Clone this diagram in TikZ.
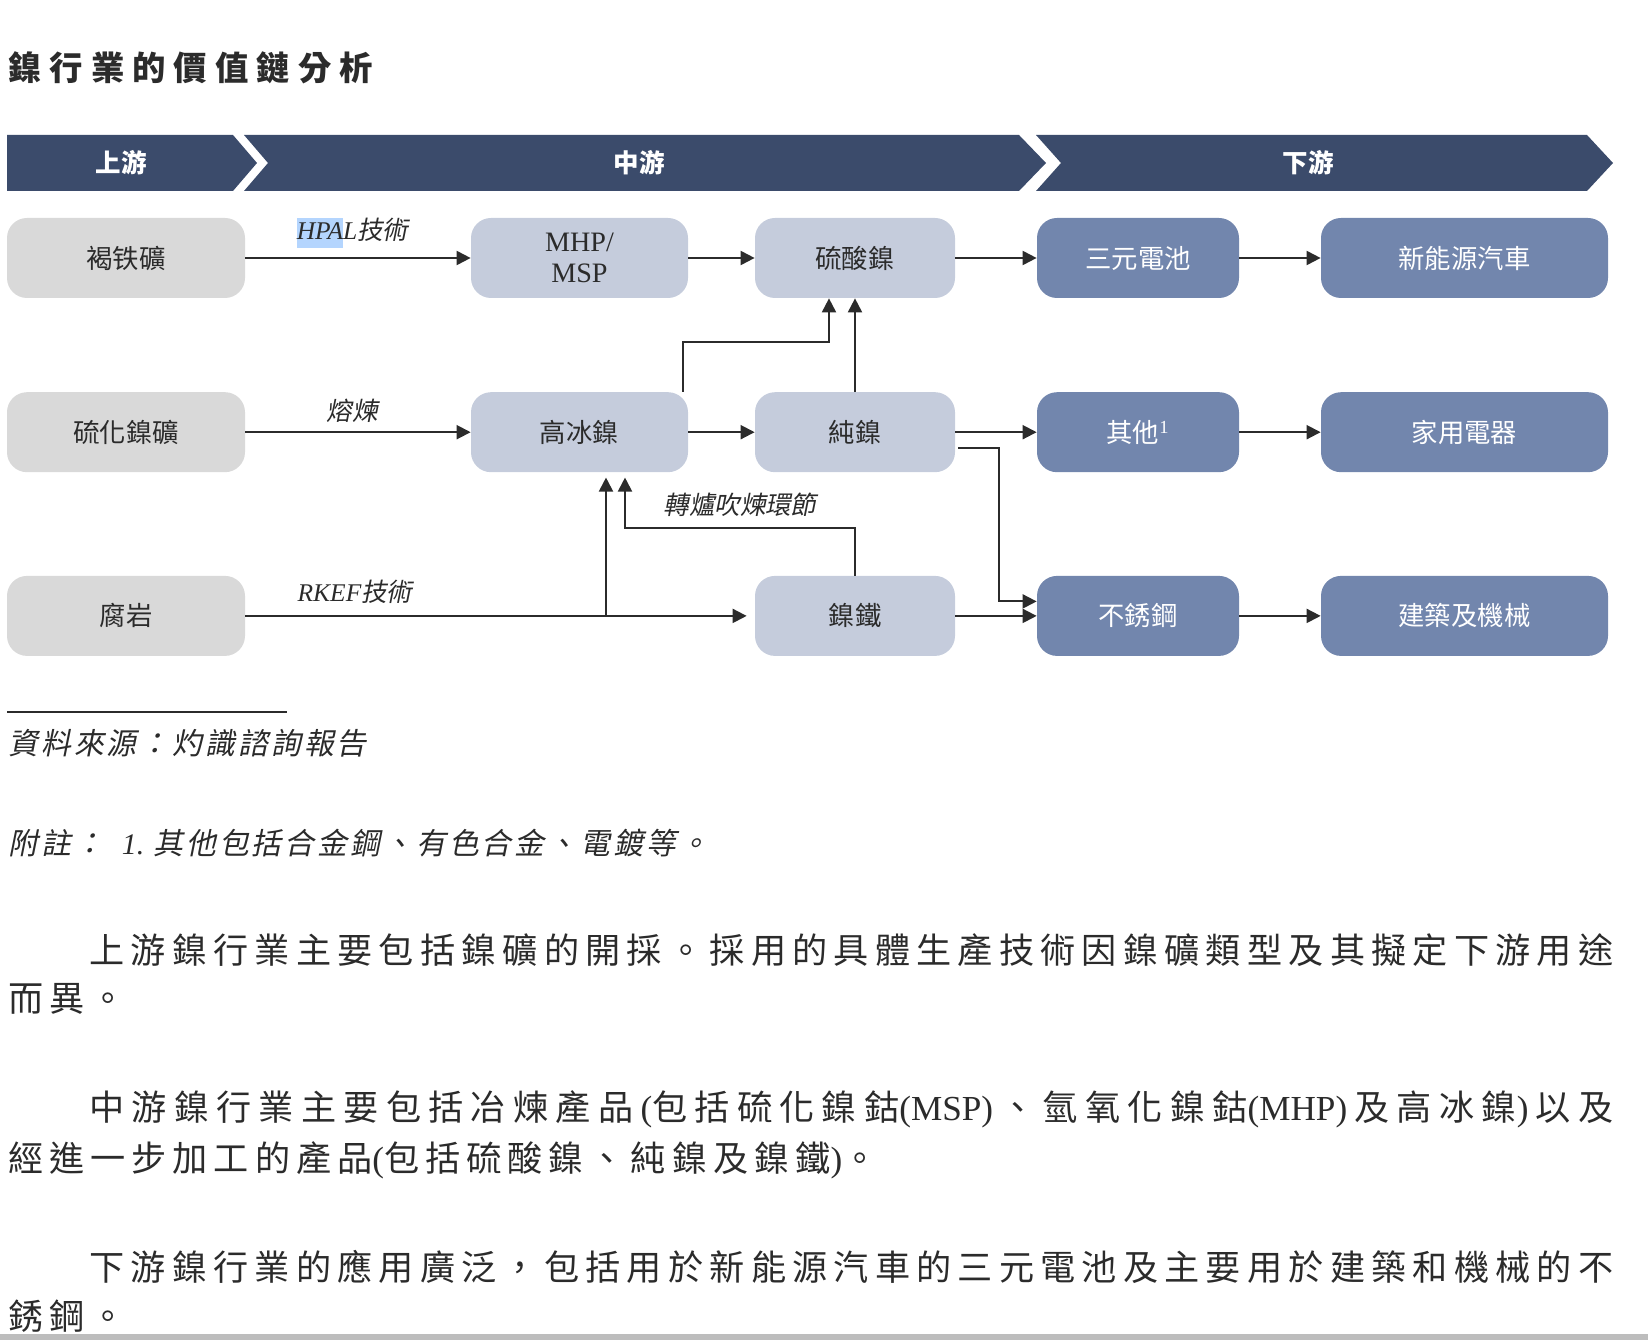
\documentclass[tikz,border=0pt]{standalone}
\usepackage{fontspec}
\setmainfont{Liberation Serif}
\newfontfamily\cjk{Noto Sans CJK TC}
\newfontfamily\cjkit[FakeSlant=0.2]{Noto Sans CJK TC}
\newfontfamily\cjktitel[LetterSpace=24]{Noto Sans CJK TC}
\newfontfamily\cjkquelle[LetterSpace=10,FakeSlant=0.2]{Noto Sans CJK TC}
\newfontfamily\cjktext[LetterSpace=17]{Noto Sans CJK TC}
\newcommand\sperr[1]{\ifx\relax#1\else{#1}\hskip 0pt plus 1fil\relax\expandafter\sperr\fi}
\usetikzlibrary{positioning,%
  calc,%
  arrows.meta%
}
\definecolor{bandblau}{HTML}{3B4B6B}
\definecolor{grau}{HTML}{D9D9D9}
\definecolor{hellblau}{HTML}{C5CCDC}
\definecolor{mittelblau}{HTML}{7286AD}
\definecolor{schrift}{HTML}{2B2B2B}
\definecolor{markiert}{HTML}{B4D5FE}
\definecolor{randgrau}{HTML}{BDBDBD}

\begin{document}
\begin{tikzpicture}
            \tikzset{box/.style={rounded corners=0.4cm, minimum height=1.6cm, inner sep=0pt, align=center,
                font=\cjk\fontsize{15}{18}\selectfont, text=schrift},
              roh/.style={box, fill=grau},
              zwischen/.style={box, fill=hellblau},
              endprodukt/.style={box, fill=mittelblau, text=white},
              pfeil/.style={draw=schrift, line width=1.1pt, -{Triangle[length=8pt,width=8pt]}},
              beschr/.style={font=\cjkit\fontsize{14.5}{17}\selectfont, text=schrift, inner sep=0pt},
              band/.style={font=\cjk\bfseries\fontsize{14.5}{17}\selectfont, text=white, inner sep=0pt},
              quelle/.style={font=\cjkquelle\fontsize{17}{20}\selectfont, text=schrift, inner sep=0pt, anchor=west},
              fliess/.style={font=\cjktext\fontsize{20}{24}\selectfont, text=schrift, inner sep=0pt, anchor=west}}
            \useasboundingbox (0,0) rectangle (32.96,-26.8);

            \node[anchor=west, inner sep=0pt, text=schrift, font=\cjktitel\bfseries\fontsize{19}{22}\selectfont] (titel) at (0.16,-1.36) {鎳行業的價值鏈分析};

            \fill[bandblau] (0.14,-2.7) -- (4.66,-2.7) -- (5.14,-3.26) -- (4.66,-3.82) -- (0.14,-3.82) -- cycle;
            \fill[bandblau] (4.88,-2.7) -- (20.38,-2.7) -- (20.92,-3.26) -- (20.38,-3.82) -- (4.88,-3.82) -- (5.36,-3.26) -- cycle;
            \fill[bandblau] (20.72,-2.7) -- (31.74,-2.7) -- (32.26,-3.26) -- (31.74,-3.82) -- (20.72,-3.82) -- (21.22,-3.26) -- cycle;
            \node[band] (up) at (2.42,-3.26) {上游};
            \node[band] (mid) at (12.78,-3.26) {中游};
            \node[band] (down) at (26.16,-3.26) {下游};

            \node[roh, minimum width=4.76cm] (lim) at (2.52,-5.16) {褐铁礦};
            \node[zwischen, minimum width=4.34cm, font=\rmfamily\fontsize{16}{17.6}\selectfont] (mhp) at (11.59,-5.16) {MHP/\\MSP};
            \node[zwischen, minimum width=4.0cm] (nso) at (17.1,-5.16) {硫酸鎳};
            \node[endprodukt, minimum width=4.04cm] (ncm) at (22.76,-5.16) {三元電池};
            \node[endprodukt, minimum width=5.74cm] (nev) at (29.29,-5.16) {新能源汽車};

            \node[roh, minimum width=4.76cm, below = 1.87cm of lim] (sul) {硫化鎳礦};
            \node[zwischen, minimum width=4.34cm, below = 1.87cm of mhp] (hmat) {高冰鎳};
            \node[zwischen, minimum width=4.0cm, below = 1.87cm of nso] (pni) {純鎳};
            \node[endprodukt, minimum width=4.04cm, below = 1.87cm of ncm] (oth) {其他{\rmfamily\textsuperscript{1}}};
            \node[endprodukt, minimum width=5.74cm, below = 1.87cm of nev] (hap) {家用電器};

            \node[roh, minimum width=4.76cm, below = 2.06cm of sul] (sap) {腐岩};
            \node[zwischen, minimum width=4.0cm, below = 2.06cm of pni] (nfe) {鎳鐵};
            \node[endprodukt, minimum width=4.04cm, below = 2.06cm of oth] (sst) {不銹鋼};
            \node[endprodukt, minimum width=5.74cm, below = 2.06cm of hap] (con) {建築及機械};

            \draw[pfeil] (lim) -- (mhp);
            \draw[pfeil] (mhp) -- (nso);
            \draw[pfeil] (nso) -- (ncm);
            \draw[pfeil] (ncm) -- (nev);
            \draw[pfeil] (sul) -- (hmat);
            \draw[pfeil] (hmat) -- (pni);
            \draw[pfeil] (pni) -- (oth);
            \draw[pfeil] (oth) -- (hap);
            \draw[pfeil] (nfe) -- (sst);
            \draw[pfeil] (sst) -- (con);
            \draw[pfeil, shorten >=0.16cm] (sap) -- (nfe);
            \draw[pfeil] (pni) -- (nso);
            \draw[pfeil] ([xshift=-0.1cm]hmat.north east) -- ++(0,1) -| ([xshift=-0.52cm]nso.south);
            \draw[pfeil] ([xshift=0.06cm,yshift=-0.31cm]pni.east) -- ++(0.82,0) |- ([yshift=0.29cm]sst.west);

            \coordinate (rkoben) at ([xshift=0.53cm]hmat.south);
            \coordinate (rkgabel) at (rkoben |- sap.east);
            \draw[pfeil, shorten >=0.1cm] (rkgabel) -- (rkoben);
            \draw[pfeil, shorten >=0.1cm] (nfe.north) -- ++(0,0.96) -| ([xshift=0.91cm]hmat.south);

            \node[beschr] (hpal) at (7.05,-4.66) {{\rmfamily\itshape\setlength\fboxsep{0pt}\colorbox{markiert}{\strut HPA}L}技術};
            \node[beschr] (smelt) at (7.04,-8.22) {熔煉};
            \node[beschr] (rkef) at (7.1,-11.84) {{\rmfamily\itshape RKEF}技術};
            \node[beschr] (konv) at (14.8,-10.1) {轉爐吹煉環節};

            %Fussnoten
            \draw[line width=1.1pt, draw=schrift] (0.14,-14.24) -- (5.74,-14.24);
            \node[quelle] (q) at (0.16,-14.86) {資料來源：灼識諮詢報告};
            \node[quelle] (fn) at (0.16,-16.86) {附註：\hspace{0.36cm}{\rmfamily\itshape 1.}\hspace{0.18cm}其他包括合金鋼、有色合金、電鍍等。};

            \node[fliess] (p1a) at (1.78,-19.0) {\hbox to 30.48cm{\sperr 上游鎳行業主要包括鎳礦的開採。採用的具體生產技術因鎳礦類型及其擬定下游用\relax 途}};
            \node[fliess] (p1b) at (0.16,-19.98) {而異。};
            \node[fliess] (p2a) at (1.78,-22.18) {\hbox to 30.48cm{\sperr 中游鎳行業主要包括冶煉產品{{\rmfamily (}包}括硫化鎳{鈷\rmfamily (MSP)}、氫氧化鎳{鈷\rmfamily (MHP)}及高冰{鎳\rmfamily )}以\relax 及}};
            \node[fliess] (p2b) at (0.16,-23.2) {經進一步加工的產品{\rmfamily (}包括硫酸鎳、純鎳及鎳鐵{\rmfamily )}。};
            \node[fliess] (p3a) at (1.78,-25.34) {\hbox to 30.48cm{\sperr 下游鎳行業的應用廣泛，包括用於新能源汽車的三元電池及主要用於建築和機械的\relax 不}};
            \node[fliess] (p3b) at (0.16,-26.32) {銹鋼。};

            \fill[randgrau] (0,-26.68) rectangle (32.96,-26.8);
        \end{tikzpicture}
\end{document}
